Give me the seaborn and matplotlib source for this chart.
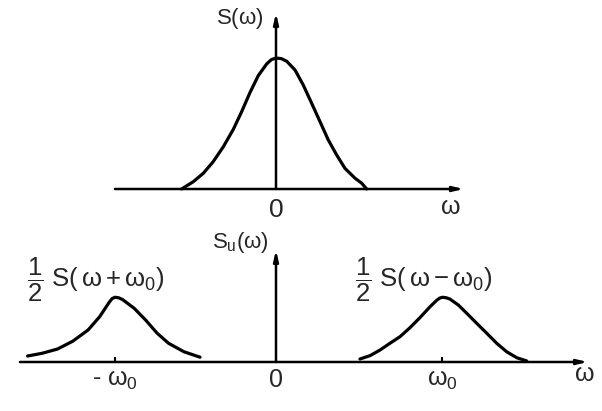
import numpy as np
import matplotlib
matplotlib.use("Agg")
import matplotlib.pyplot as plt
import seaborn as sns

# Style
sns.set_style("white")
plt.rcParams['font.family'] = ['Liberation Sans', 'DejaVu Sans']
plt.rcParams['mathtext.fontset'] = 'custom'
plt.rcParams['mathtext.rm'] = 'Liberation Sans'
plt.rcParams['mathtext.it'] = 'Liberation Sans'
plt.rcParams['mathtext.bf'] = 'Liberation Sans:bold'

# Data: omega in units of omega_0, spectrum normalised to the baseband peak
base_w = [-0.579, -0.507, -0.446, -0.385, -0.323, -0.262, -0.210, -0.160, -0.109, -0.057,
          -0.028, 0.0, 0.033, 0.066, 0.117, 0.167, 0.219, 0.270, 0.321, 0.372, 0.423,
          0.485, 0.526, 0.556]
base_s = [0.0, 0.056, 0.120, 0.209, 0.323, 0.455, 0.592, 0.735, 0.865, 0.955,
          0.988, 1.0, 0.995, 0.975, 0.908, 0.794, 0.654, 0.514, 0.374, 0.260, 0.158,
          0.082, 0.044, 0.0]

lower_w = [-1.524, -1.435, -1.340, -1.247, -1.153, -1.082, -1.023, -1.005, -0.988,
           -0.965, -0.941, -0.870, -0.800, -0.729, -0.659, -0.565, -0.466]
lower_s = [0.046, 0.067, 0.100, 0.160, 0.246, 0.348, 0.460, 0.488, 0.498,
           0.494, 0.480, 0.413, 0.323, 0.221, 0.144, 0.079, 0.037]

upper_w = [0.515, 0.577, 0.638, 0.699, 0.761, 0.822, 0.883, 0.945, 0.986, 1.005, 1.022,
           1.045, 1.067, 1.119, 1.170, 1.231, 1.293, 1.354, 1.415, 1.477, 1.538]
upper_s = [0.023, 0.049, 0.092, 0.144, 0.195, 0.264, 0.341, 0.425, 0.475, 0.492, 0.498,
           0.494, 0.484, 0.438, 0.375, 0.298, 0.221, 0.144, 0.079, 0.033, 0.008]

tick_pos = [-0.99, 0.0, 1.02]
tick_labels = [r'- $\omega_0$', '0', r'$\omega_0$']

# Figure: two transparent axes laid over the whole canvas
fig = plt.figure(figsize=(6.02, 4.11), dpi=100)
ax_top = fig.add_axes([0, 0, 1, 1])
ax_bot = fig.add_axes([0, 0, 1, 1])

# pixel mapping: zero at x=276, 163 px per omega_0
ax_top.set_xlim(-276 / 163, 326 / 163)
ax_bot.set_xlim(-276 / 163, 326 / 163)
ax_top.set_ylim(-222 / 131, 189 / 131)
ax_bot.set_ylim(-49 / 130, 362 / 130)
for ax in (ax_top, ax_bot):
    ax.set_axis_off()
    ax.patch.set_alpha(0)

arrow = dict(arrowstyle='-|>,head_length=0.6,head_width=0.14', color='black', lw=1.8,
             shrinkA=0, shrinkB=0)
line_kw = dict(color='black', lw=2.3, solid_joinstyle='round', solid_capstyle='round')

# Top panel: baseband spectrum
ax_top.annotate('', xy=(1.153, 0), xytext=(-0.988, 0), arrowprops=arrow)
ax_top.annotate('', xy=(0, 1.344), xytext=(0, 0), arrowprops=arrow)
sns.lineplot(x=base_w, y=base_s, ax=ax_top, **line_kw)
ax_top.text(-0.221, 1.305, r'$S(\omega)$', fontsize=16, ha='center', va='center')
ax_top.text(0, -0.160, '0', fontsize=19, ha='center', va='center')
ax_top.text(1.067, -0.141, r'$\omega$', fontsize=18, ha='center', va='center')

# Bottom panel: modulated spectrum
ax_bot.annotate('', xy=(1.914, 0), xytext=(-1.571, 0), arrowprops=arrow)
ax_bot.annotate('', xy=(0, 0.862), xytext=(0, 0), arrowprops=arrow)
sns.lineplot(x=lower_w, y=lower_s, ax=ax_bot, **line_kw)
sns.lineplot(x=upper_w, y=upper_s, ax=ax_bot, **line_kw)
ax_bot.vlines([tick_pos[0], tick_pos[2]], 0, 0.035, color='black', lw=1.5)
for p, lab in zip(tick_pos, tick_labels):
    ax_bot.text(p, -0.14, lab, fontsize=18, ha='center', va='center')
ax_bot.text(1.89, -0.092, r'$\omega$', fontsize=18, ha='center', va='center')
ax_bot.text(-0.221, 0.923, r'$S_u(\omega)$', fontsize=16, ha='center', va='center')
ax_bot.text(-1.104, 0.631, r'$\dfrac{1}{2}\ S(\,\omega+\omega_0)$', fontsize=18.5,
            ha='center', va='center')
ax_bot.text(0.908, 0.631, r'$\dfrac{1}{2}\ S(\,\omega-\omega_0)$', fontsize=18.5,
            ha='center', va='center')

fig.savefig('out.png', dpi=100, facecolor='white')
